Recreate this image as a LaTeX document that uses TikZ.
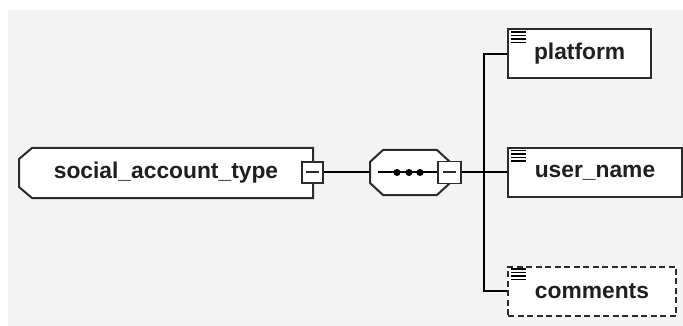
\documentclass[tikz,border=0pt]{standalone}
\usepackage{fontspec}
\setmainfont{Liberation Sans}
\definecolor{bggray}{HTML}{F3F3F3}
\definecolor{edgegray}{HTML}{2B2B2B}
\tikzset{
  outline/.style={draw=edgegray, line width=2pt, fill=white, line join=miter},
  elem/.style={draw=edgegray, line width=2pt, fill=white, anchor=west,
    minimum height=49pt, inner xsep=26pt, inner ysep=0pt,
    font=\bfseries\fontsize{22.8}{26}\selectfont, text=black!88},
  optelem/.style={elem, dash pattern=on 6pt off 3.5pt},
  minusbox/.style={draw=edgegray, line width=1.8pt, fill=white, minimum size=21pt,
    inner sep=0pt, path picture={\draw[line width=2pt]
      ([xshift=-6.5pt]path picture bounding box.center) --
      ([xshift=6.5pt]path picture bounding box.center);}},
  seqdot/.style={circle, fill=black, inner sep=0pt, minimum size=7pt},
  link/.style={line width=2pt, black}
}
\begin{document}
\begin{tikzpicture}[x=1pt, y=-1pt]
  \useasboundingbox (0,0) rectangle (683,326);
  \fill[bggray] (8,10) rectangle (683,326);

  % complex type
  \path[outline] (32,148) -- (313,148) -- (313,198) -- (32,198)
    -- (19,187) -- (19,159) -- cycle;
  \node[minimum width=294pt, minimum height=50pt, inner sep=0pt,
    font=\bfseries\fontsize{22.8}{26}\selectfont, text=black!88]
    (account) at (166,173) {social\_account\_type};
  \node[minusbox] (accountbox) at (312.5,172.5) {};

  % sequence
  \path[outline] (383,150) -- (437,150) -- (450,162) -- (450,183) -- (437,195)
    -- (383,195) -- (370,183) -- (370,162) -- cycle;
  \node[minimum width=80pt, minimum height=45pt, inner sep=0pt]
    (seq) at (410,172.5) {};
  \node[minusbox, minimum width=23pt, minimum height=22pt] (seqbox) at (449.5,172.5) {};
  \coordinate (seqin) at (378,172.5);
  \draw[link] (seqin) -- (seqbox.west);
  \foreach \x [count=\i] in {397,409,420}
    \node[seqdot] (dot\i) at (\x,172.5) {};

  % child elements
  \node[elem] (platform) at (507,54) {platform};
  \node[elem, minimum width=174pt] (username) at (507,172.5) {user\_name};
  \node[optelem, minimum width=168pt] (comments) at (507,291) {comments};
  \foreach \e in {platform,username,comments}
    \foreach \k in {3.5,7,10.5,14}
      \draw[line width=1.4pt] ([xshift=4pt,yshift=-\k pt]\e.north west) -- ++(15,0);

  % connectors
  \coordinate (fork) at (484,172.5);
  \draw[link] (accountbox.east) -- (seq.west);
  \draw[link] (seqbox.east) -- (fork) -- (username.west);
  \draw[link] (platform.west) -| (fork) |- (comments.west);
\end{tikzpicture}
\end{document}
